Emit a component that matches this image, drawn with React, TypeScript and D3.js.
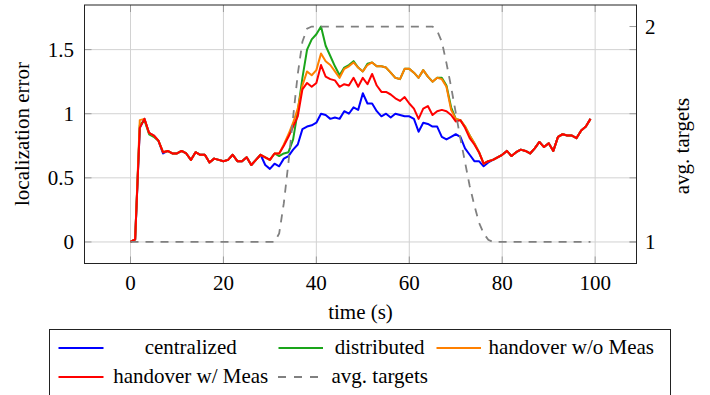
import React from "react";
import * as d3 from "d3";

const xTicks = [0, 20, 40, 60, 80, 100];
const yTicks = [0, 0.5, 1, 1.5];
const yTickLabels = ["0", "0.5", "1", "1.5"];
const y2Ticks = [1, 2];

const centralized = [
  0.00, 0.02, 0.89, 0.96, 0.85, 0.83, 0.79, 0.69, 0.71, 0.69,
  0.69, 0.71, 0.69, 0.64, 0.70, 0.68, 0.68, 0.62, 0.65, 0.64,
  0.63, 0.64, 0.68, 0.63, 0.63, 0.66, 0.60, 0.64, 0.68, 0.60,
  0.57, 0.61, 0.59, 0.65, 0.67, 0.72, 0.76, 0.88, 0.90, 0.91,
  0.93, 1.00, 0.99, 0.96, 0.97, 0.96, 1.02, 1.00, 1.05, 1.03,
  1.16, 1.08, 1.08, 1.02, 0.98, 1.00, 0.97, 1.00, 0.99, 0.98,
  0.98, 0.96, 0.86, 0.93, 0.92, 0.90, 0.90, 0.82, 0.80, 0.82,
  0.84, 0.82, 0.73, 0.68, 0.63, 0.63, 0.59, 0.62, 0.64, 0.66,
  0.68, 0.71, 0.67, 0.70, 0.72, 0.71, 0.69, 0.73, 0.78, 0.74,
  0.77, 0.71, 0.82, 0.84, 0.83, 0.83, 0.81, 0.87, 0.90, 0.96,
];

const distributed = [
  0.00, 0.02, 0.91, 0.95, 0.84, 0.82, 0.79, 0.70, 0.71, 0.69,
  0.69, 0.71, 0.69, 0.64, 0.70, 0.68, 0.68, 0.62, 0.65, 0.64,
  0.63, 0.64, 0.68, 0.63, 0.63, 0.66, 0.60, 0.64, 0.68, 0.66,
  0.64, 0.69, 0.67, 0.69, 0.70, 0.80, 1.02, 1.28, 1.50, 1.58,
  1.62, 1.68, 1.53, 1.45, 1.37, 1.30, 1.36, 1.38, 1.41, 1.36,
  1.33, 1.39, 1.40, 1.37, 1.37, 1.36, 1.32, 1.28, 1.27, 1.35,
  1.35, 1.32, 1.28, 1.34, 1.29, 1.25, 1.28, 1.28, 1.22, 1.05,
  0.96, 0.95, 0.90, 0.83, 0.77, 0.70, 0.61, 0.63, 0.64, 0.66,
  0.68, 0.71, 0.67, 0.70, 0.72, 0.71, 0.69, 0.73, 0.78, 0.74,
  0.77, 0.71, 0.82, 0.84, 0.83, 0.83, 0.81, 0.87, 0.90, 0.96,
];

const handoverWoMeas = [
  0.00, 0.02, 0.95, 0.96, 0.85, 0.83, 0.79, 0.70, 0.71, 0.69,
  0.69, 0.71, 0.69, 0.64, 0.70, 0.68, 0.68, 0.62, 0.65, 0.64,
  0.63, 0.64, 0.68, 0.63, 0.63, 0.66, 0.60, 0.64, 0.68, 0.66,
  0.64, 0.69, 0.69, 0.76, 0.84, 0.93, 1.04, 1.22, 1.33, 1.30,
  1.34, 1.47, 1.41, 1.38, 1.33, 1.28, 1.35, 1.37, 1.40, 1.36,
  1.33, 1.38, 1.40, 1.37, 1.37, 1.36, 1.32, 1.28, 1.27, 1.35,
  1.35, 1.32, 1.28, 1.34, 1.29, 1.25, 1.28, 1.27, 1.21, 1.03,
  0.96, 0.95, 0.90, 0.83, 0.77, 0.70, 0.61, 0.63, 0.64, 0.66,
  0.68, 0.71, 0.67, 0.70, 0.72, 0.71, 0.69, 0.73, 0.78, 0.74,
  0.77, 0.71, 0.82, 0.84, 0.83, 0.83, 0.81, 0.87, 0.90, 0.96,
];

const handoverWMeas = [
  0.00, 0.02, 0.89, 0.96, 0.85, 0.83, 0.79, 0.70, 0.71, 0.69,
  0.69, 0.71, 0.69, 0.64, 0.70, 0.68, 0.68, 0.62, 0.65, 0.64,
  0.63, 0.64, 0.68, 0.63, 0.63, 0.66, 0.60, 0.64, 0.68, 0.66,
  0.64, 0.69, 0.69, 0.75, 0.82, 0.90, 0.98, 1.19, 1.24, 1.21,
  1.24, 1.38, 1.29, 1.27, 1.26, 1.21, 1.23, 1.22, 1.28, 1.21,
  1.28, 1.23, 1.31, 1.22, 1.17, 1.17, 1.15, 1.12, 1.10, 1.13,
  1.08, 1.04, 0.96, 1.04, 1.06, 0.99, 1.02, 1.03, 1.02, 0.99,
  0.94, 0.95, 0.89, 0.81, 0.76, 0.70, 0.61, 0.63, 0.64, 0.66,
  0.68, 0.71, 0.67, 0.70, 0.72, 0.71, 0.69, 0.73, 0.78, 0.74,
  0.77, 0.71, 0.82, 0.84, 0.83, 0.83, 0.81, 0.87, 0.90, 0.96,
];

const avgTargets = [
  1, 1, 1, 1, 1, 1, 1, 1, 1, 1,
  1, 1, 1, 1, 1, 1, 1, 1, 1, 1,
  1, 1, 1, 1, 1, 1, 1, 1, 1, 1,
  1, 1, 1.04, 1.18, 1.37, 1.58, 1.78, 1.93, 1.99, 2,
  2, 2, 2, 2, 2, 2, 2, 2, 2, 2,
  2, 2, 2, 2, 2, 2, 2, 2, 2, 2,
  2, 2, 2, 2, 2, 2, 1.98, 1.93, 1.83, 1.72,
  1.60, 1.48, 1.37, 1.26, 1.17, 1.09, 1.04, 1.01, 1, 1,
  1, 1, 1, 1, 1, 1, 1, 1, 1, 1,
  1, 1, 1, 1, 1, 1, 1, 1, 1, 1,
];

const seriesNames = ["centralized", "distributed", "handover w/o Meas", "handover w/ Meas"];
const seriesColors = ["#0000ff", "#1aa51a", "#ff8000", "#ff0000"];
const seriesData = [centralized, distributed, handoverWoMeas, handoverWMeas];

const FONT = "Liberation Serif";
const FS = 21;

export default function App() {
  const L = 84.5, R = 636.5, T = 5, B = 263.5;
  const x = d3.scaleLinear().domain([-9.9, 108.9]).range([L, R]);
  const y = d3.scaleLinear().domain([-0.168, 1.848]).range([B, T]);
  const y2 = d3.scaleLinear().domain([0.9, 2.1]).range([B, T]);

  const line = d3.line<number>().x((_, i) => x(i)).y((d) => y(d));
  const line2 = d3.line<number>().x((_, i) => x(i)).y((d) => y2(d));

  const tickLen = 7;
  const gridColor = "#d2d2d2";
  const tickColor = "#9a9a9a";
  const txt = { fontFamily: FONT, fontSize: FS } as React.CSSProperties;

  return (
    <svg width={710} height={395} style={{ position: "absolute", left: 0, top: 0, background: "#fff" }}>
      {xTicks.map((t) => (
        <line key={"gx" + t} x1={x(t)} x2={x(t)} y1={T} y2={B} stroke={gridColor} strokeWidth={1} />
      ))}
      {yTicks.map((t) => (
        <line key={"gy" + t} x1={L} x2={R} y1={y(t)} y2={y(t)} stroke={gridColor} strokeWidth={1} />
      ))}
      {xTicks.map((t) => (
        <g key={"tx" + t}>
          <line x1={x(t)} x2={x(t)} y1={B} y2={B - tickLen} stroke={tickColor} />
          <line x1={x(t)} x2={x(t)} y1={T} y2={T + tickLen} stroke={tickColor} />
        </g>
      ))}
      {yTicks.map((t) => (
        <g key={"ty" + t}>
          <line x1={L} x2={L + tickLen} y1={y(t)} y2={y(t)} stroke={tickColor} />
          <line x1={R} x2={R - tickLen} y1={y(t)} y2={y(t)} stroke={tickColor} />
        </g>
      ))}
      {y2Ticks.map((t) => (
        <line key={"ty2" + t} x1={R} x2={R - tickLen} y1={y2(t)} y2={y2(t)} stroke={tickColor} />
      ))}
      {seriesData.map((d, k) => (
        <path key={seriesNames[k]} d={line(d) || ""} fill="none" stroke={seriesColors[k]} strokeWidth={2} strokeLinejoin="round" />
      ))}
      <path d={line2(avgTargets) || ""} fill="none" stroke="#808080" strokeWidth={1.8} strokeDasharray="8,7" />
      <rect x={L} y={T} width={R - L} height={B - T} fill="none" stroke="#222" strokeWidth={1} />
      {xTicks.map((t) => (
        <text key={"lx" + t} x={x(t)} y={290} textAnchor="middle" style={txt}>{t}</text>
      ))}
      {yTicks.map((t, i) => (
        <text key={"ly" + t} x={74} y={y(t) + 7} textAnchor="end" style={txt}>{yTickLabels[i]}</text>
      ))}
      {y2Ticks.map((t) => (
        <text key={"ly2" + t} x={645} y={y2(t) + 7} textAnchor="start" style={txt}>{t}</text>
      ))}
      <text x={360.5} y={319} textAnchor="middle" style={txt}>time (s)</text>
      <text transform="translate(29,134) rotate(-90)" textAnchor="middle" style={txt}>localization error</text>
      <text transform="translate(689,146) rotate(-90)" textAnchor="middle" style={txt}>avg. targets</text>
      <rect x={49.5} y={329.5} width={621} height={90} fill="#fff" stroke="#222" strokeWidth={1} />
      <line x1={58.5} x2={103.5} y1={348} y2={348} stroke={seriesColors[0]} strokeWidth={2} />
      <text x={190.7} y={354} textAnchor="middle" style={txt}>{seriesNames[0]}</text>
      <line x1={278.5} x2={323} y1={348} y2={348} stroke={seriesColors[1]} strokeWidth={2} />
      <text x={379.7} y={354} textAnchor="middle" style={txt}>{seriesNames[1]}</text>
      <line x1={436.5} x2={481} y1={348} y2={348} stroke={seriesColors[2]} strokeWidth={2} />
      <text x={488.4} y={354} textAnchor="start" style={txt}>{seriesNames[2]}</text>
      <line x1={58.5} x2={103.5} y1={377} y2={377} stroke={seriesColors[3]} strokeWidth={2} />
      <text x={190.7} y={383} textAnchor="middle" style={txt}>{seriesNames[3]}</text>
      <line x1={278} x2={320} y1={377} y2={377} stroke="#808080" strokeWidth={1.8} strokeDasharray="8,8" />
      <text x={379.7} y={383} textAnchor="middle" style={txt}>avg. targets</text>
    </svg>
  );
}
